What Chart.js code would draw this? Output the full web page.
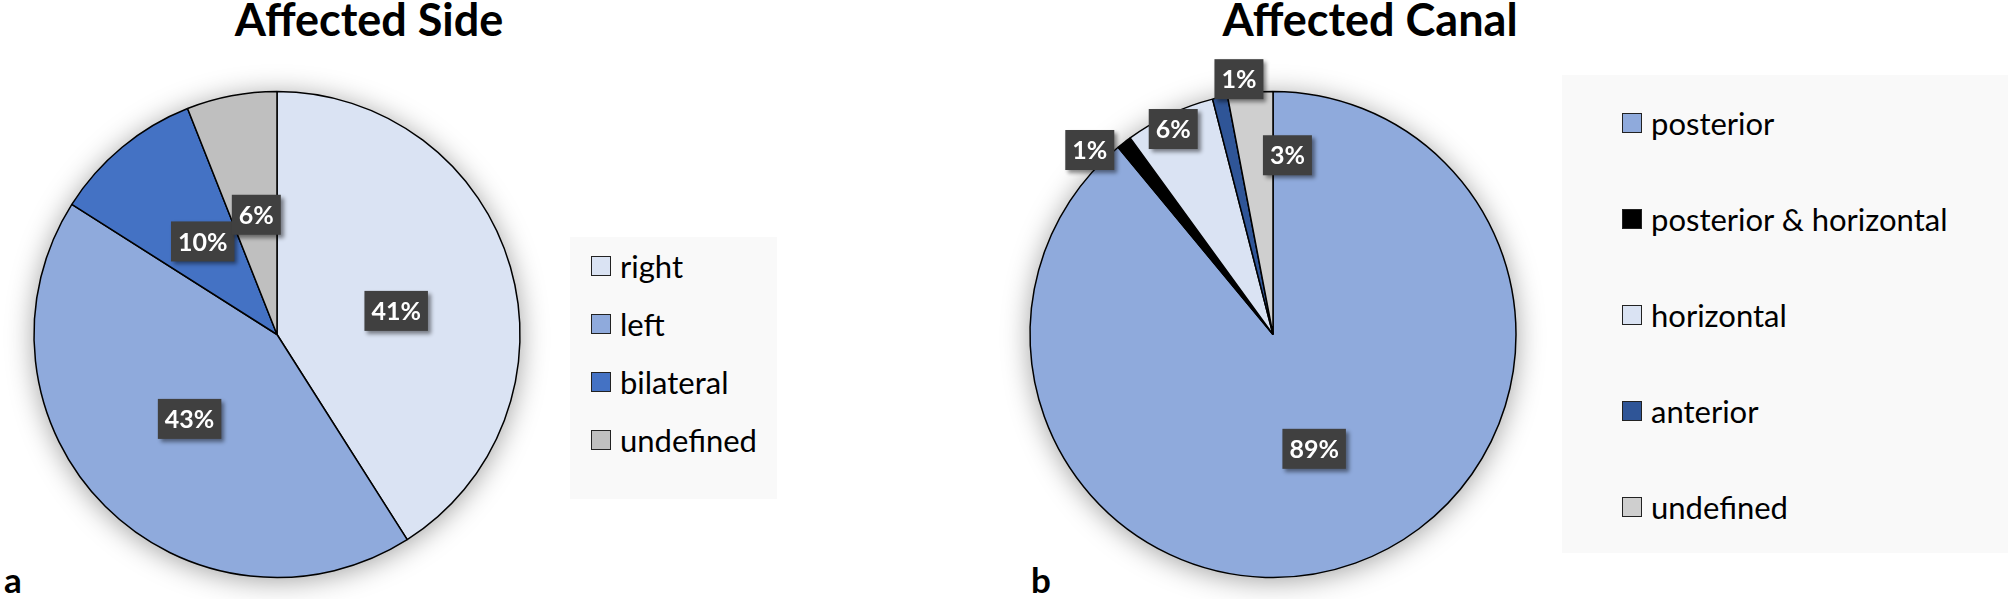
<!DOCTYPE html>
<html>
<head>
<meta charset="utf-8">
<script src="https://cdn.jsdelivr.net/npm/chart.js@4"></script>
<style>
 html,body{margin:0;padding:0;background:#fff;}
 body{width:2008px;height:599px;position:relative;overflow:hidden;font-family:Lato,"Open Sans",sans-serif;}
 canvas{position:absolute;top:0;}
 .title{position:absolute;top:-8px;font-weight:bold;font-size:45px;color:#000;white-space:nowrap;transform:translateX(-50%);}
 .tag{position:absolute;font-weight:bold;font-size:35px;line-height:35px;color:#000;}
 .legend{position:absolute;background:#f9f9f9;}
 .legend .row{position:absolute;left:0;display:flex;align-items:center;font-size:31px;color:#000;white-space:nowrap;transform:translateY(-50%);}
 .legend .box{width:18px;height:18px;border:1.5px solid #222;margin-right:9px;flex:none;}
</style>
</head>
<body>
<div class="title" style="left:369px">Affected Side</div>
<div class="title" style="left:1370px">Affected Canal</div>
<div class="tag" style="left:4px;top:562px">a</div>
<div class="tag" style="left:1031px;top:562px">b</div>

<canvas id="sideChart" width="554" height="599" style="left:0px"></canvas>
<canvas id="canalChart" width="554" height="599" style="left:996px"></canvas>

<div class="legend" id="sideLegend" style="left:570px;top:237px;width:207px;height:262px"></div>
<div class="legend" id="canalLegend" style="left:1562px;top:75px;width:446px;height:478px"></div>

<script>
const sideLabels=["right","left","bilateral","undefined"];
const sidePct=[41,43,10,6];
const sideColors=["#dae3f3","#8faadc","#4472c4","#bfbfbf"];

const canalLabels=["posterior","posterior & horizontal","horizontal","anterior","undefined"];
const canalPct=[89,1,6,1,3];
const canalColors=["#8faadc","#000000","#dae3f3","#2f5597","#cfcfcf"];

// where each value box sits: fraction of radius, degrees off the slice middle
const sidePlace=[[0.5,5],[0.5,1],[0.49,1],[0.5,1]];
const canalPlace=[[0.5,0],[1.07,-7],[0.94,-0.7],[1.06,5],[0.74,10]];

const pieShadow={
 id:"pieShadow",
 beforeDatasetsDraw(chart){
   const a=chart.getDatasetMeta(0).data[0];
   if(!a)return;
   const ctx=chart.ctx;
   ctx.save();
   ctx.shadowColor="rgba(0,0,0,0.38)";
   ctx.shadowBlur=28;
   ctx.shadowOffsetY=3;
   ctx.fillStyle="#fff";
   ctx.beginPath();ctx.arc(a.x,a.y,a.outerRadius,0,Math.PI*2);ctx.fill();
   ctx.restore();
 }
};

const valueBoxes={
 id:"valueBoxes",
 afterDatasetsDraw(chart,args,opts){
   const ctx=chart.ctx;
   const vals=chart.data.datasets[0].data;
   chart.getDatasetMeta(0).data.forEach((a,i)=>{
     const p=a.getProps(["x","y","startAngle","endAngle","outerRadius"]);
     const pl=opts.place[i]||[0.5,0];
     const ang=(p.startAngle+p.endAngle)/2+pl[1]*Math.PI/180;
     const cx=p.x+Math.cos(ang)*p.outerRadius*pl[0];
     const cy=p.y+Math.sin(ang)*p.outerRadius*pl[0];
     const txt=vals[i]+"%";
     ctx.save();
     ctx.font="bold 25px Lato";
     const w=ctx.measureText(txt).width+14,h=40;
     ctx.shadowColor="rgba(0,0,0,0.45)";
     ctx.shadowBlur=4;ctx.shadowOffsetX=3;ctx.shadowOffsetY=3;
     ctx.fillStyle="#404040";
     ctx.fillRect(cx-w/2,cy-h/2,w,h);
     ctx.shadowColor="transparent";
     ctx.fillStyle="#fff";ctx.textAlign="center";ctx.textBaseline="middle";
     ctx.fillText(txt,cx,cy+1);
     ctx.restore();
   });
 }
};

function makePie(id,labels,values,colors,place){
 return new Chart(document.getElementById(id),{
   type:"pie",
   data:{labels,datasets:[{data:values,backgroundColor:colors,borderColor:"#000",borderWidth:1.5}]},
   options:{
     responsive:false,animation:false,radius:243,
     layout:{padding:{top:70,bottom:0,left:0,right:0}},
     plugins:{legend:{display:false},tooltip:{enabled:false},valueBoxes:{place}}
   },
   plugins:[pieShadow,valueBoxes]
 });
}

function makeLegend(id,labels,colors,left,firstY,step){
 const el=document.getElementById(id);
 labels.forEach((l,i)=>{
   el.innerHTML+=`<div class="row" style="left:${left}px;top:${firstY+i*step}px"><span class="box" style="background:${colors[i]}"></span>${l}</div>`;
 });
}

makePie("sideChart",sideLabels,sidePct,sideColors,sidePlace);
makePie("canalChart",canalLabels,canalPct,canalColors,canalPlace);
makeLegend("sideLegend",sideLabels,sideColors,21,29,58);
makeLegend("canalLegend",canalLabels,canalColors,60,48,96);
</script>
</body>
</html>
